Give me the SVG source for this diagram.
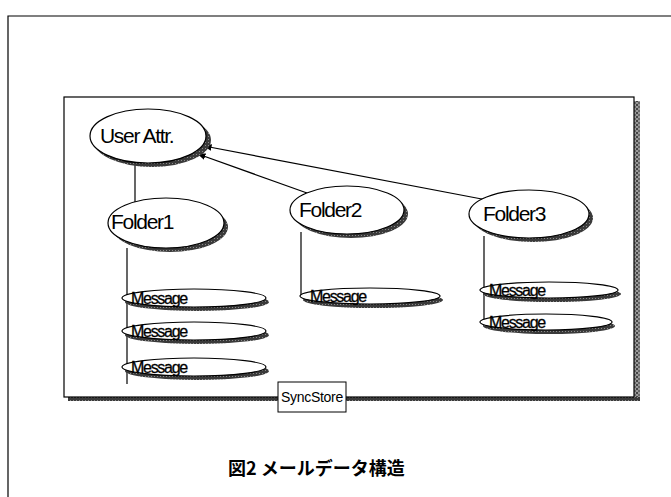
<svg xmlns="http://www.w3.org/2000/svg" width="671" height="497" viewBox="0 0 671 497">
  <style>
    .frame { fill: none; stroke: #000; stroke-width: 1.2; }
    .node { fill: #fff; stroke: #000; stroke-width: 1.2; }
    .shade { fill: url(#mottle); }
    .lbl { font-family: "Liberation Sans", Arial, sans-serif; fill: #000; }
    .big { font-size: 21px; letter-spacing: -1.3px; }
    .msg { font-size: 16px; letter-spacing: -1.3px; stroke: #000; stroke-width: 0.3px; }
    .wire { fill: none; stroke: #000; stroke-width: 1.2; }
  </style>
  <defs>
    <pattern id="grain" width="4" height="4" patternUnits="userSpaceOnUse">
      <rect width="4" height="4" fill="#9a9a9a"/>
      <rect x="0" y="0" width="2" height="2" fill="#444"/>
      <rect x="2" y="2" width="2" height="2" fill="#666"/>
    </pattern>
    <pattern id="mottle" width="3" height="3" patternUnits="userSpaceOnUse">
      <rect width="3" height="3" fill="#3a3a3a"/>
      <rect x="1" y="1" width="1" height="1" fill="#8a8a8a"/>
    </pattern>
    <marker id="arrow" viewBox="0 0 10 10" refX="9" refY="5" markerWidth="7" markerHeight="7" orient="auto">
      <path d="M0,1 L10,5 L0,9 Z" fill="#000"/>
    </marker>
  </defs>

  <rect width="671" height="497" fill="#fff"/>

  <!-- outer page frame -->
  <path class="frame" d="M8,497 V16 H671"/>

  <!-- SyncStore container with drop shadow -->
  <g id="syncstore-box">
    <rect x="634" y="101" width="6" height="300" fill="url(#grain)"/>
    <rect x="68" y="397" width="572" height="4" fill="url(#mottle)"/>
    <rect x="64" y="97" width="570" height="300" class="frame" fill="#fff"/>
  </g>

  <!-- connectors -->
  <g id="connectors">
    <line class="wire" x1="135" y1="164" x2="135" y2="202"/>
    <line class="wire" x1="127" y1="248" x2="127" y2="384"/>
    <line class="wire" x1="301" y1="232" x2="301" y2="296"/>
    <line class="wire" x1="484" y1="236" x2="484" y2="326"/>
    <line class="wire" x1="307" y1="193" x2="198" y2="154" marker-end="url(#arrow)"/>
    <line class="wire" x1="487" y1="200" x2="204" y2="146" marker-end="url(#arrow)"/>
  </g>

  <g id="user-attr">
    <ellipse class="shade" cx="152" cy="140" rx="59" ry="27"/>
    <ellipse class="node" cx="148" cy="136" rx="58" ry="27"/>
    <text class="lbl big" x="100" y="143">User Attr.</text>
  </g>

  <g id="folder1">
    <ellipse class="shade" cx="170" cy="227" rx="58" ry="25"/>
    <ellipse class="node" cx="166" cy="223" rx="58" ry="25"/>
    <text class="lbl big" x="111" y="229">Folder1</text>
  </g>

  <g id="folder2">
    <ellipse class="shade" cx="351" cy="214" rx="57" ry="24"/>
    <ellipse class="node" cx="347" cy="210" rx="57" ry="24"/>
    <text class="lbl big" x="299" y="217">Folder2</text>
  </g>

  <g id="folder3">
    <ellipse class="shade" cx="533" cy="218" rx="60" ry="24"/>
    <ellipse class="node" cx="529" cy="214" rx="60" ry="24"/>
    <text class="lbl big" x="483" y="221">Folder3</text>
  </g>

  <g id="f1-message1">
    <ellipse class="shade" cx="197" cy="302" rx="72" ry="9"/>
    <ellipse class="node" cx="194" cy="298" rx="72" ry="9"/>
    <text class="lbl msg" x="131" y="304">Message</text>
  </g>
  <g id="f1-message2">
    <ellipse class="shade" cx="197" cy="335" rx="72" ry="9"/>
    <ellipse class="node" cx="194" cy="331" rx="72" ry="9"/>
    <text class="lbl msg" x="131" y="337">Message</text>
  </g>
  <g id="f1-message3">
    <ellipse class="shade" cx="197" cy="371" rx="72" ry="9"/>
    <ellipse class="node" cx="194" cy="367" rx="72" ry="9"/>
    <text class="lbl msg" x="131" y="373">Message</text>
  </g>

  <g id="f2-message1">
    <ellipse class="shade" cx="373" cy="300" rx="70" ry="8"/>
    <ellipse class="node" cx="370" cy="296" rx="70" ry="8"/>
    <text class="lbl msg" x="310" y="302">Message</text>
  </g>

  <g id="f3-message1">
    <ellipse class="shade" cx="552" cy="294" rx="69" ry="8"/>
    <ellipse class="node" cx="549" cy="290" rx="69" ry="8"/>
    <text class="lbl msg" x="489" y="296">Message</text>
  </g>
  <g id="f3-message2">
    <ellipse class="shade" cx="549" cy="326" rx="66" ry="8"/>
    <ellipse class="node" cx="546" cy="322" rx="66" ry="8"/>
    <text class="lbl msg" x="489" y="328">Message</text>
  </g>

  <!-- container label tab -->
  <g id="syncstore-label">
    <rect x="278" y="382" width="68" height="30" fill="#fff" stroke="#000" stroke-width="1"/>
    <text class="lbl" x="312" y="402" font-size="14" text-anchor="middle" letter-spacing="-0.3">SyncStore</text>
  </g>

  <!-- figure caption -->
  <text id="caption" x="228" y="475" font-family="'Noto Sans CJK JP', sans-serif" font-size="18" font-weight="bold" fill="#000">図2 メールデータ構造</text>
</svg>
